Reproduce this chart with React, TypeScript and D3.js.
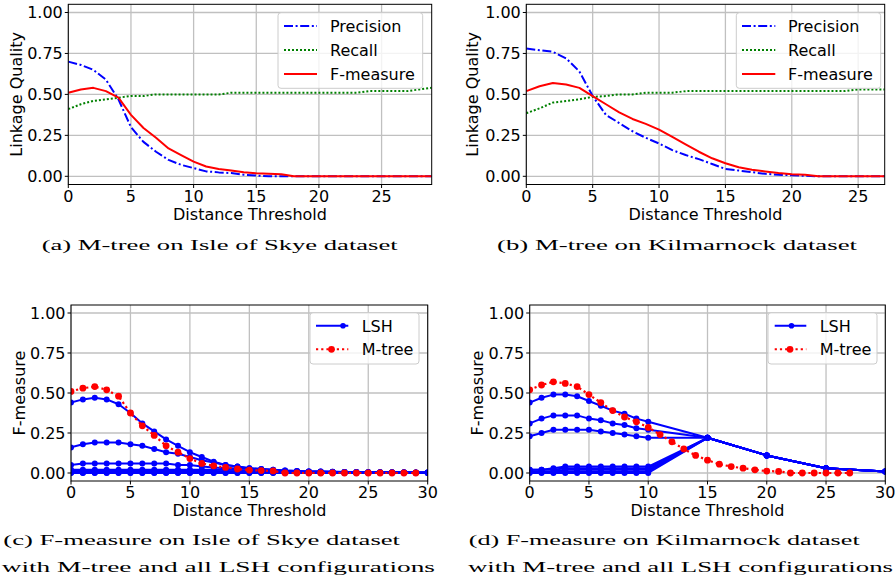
import React from "react";
import * as d3 from "d3";

// ---------- DATA ----------
const thresholdsA = [0,1,2,3,4,5,6,7,8,9,10,11,12,13,14,15,16,17,18,19,20,21,22,23,24,25,26,27,28,29];
const precisionA = [0.70,0.68,0.65,0.59,0.47,0.30,0.21,0.15,0.10,0.07,0.05,0.03,0.024,0.02,0.01,0.005,0,0,0,0,0,0,0,0,0,0,0,0,0,0];
const recallA = [0.41,0.44,0.46,0.47,0.48,0.49,0.49,0.50,0.50,0.50,0.50,0.50,0.50,0.51,0.51,0.51,0.51,0.51,0.51,0.51,0.51,0.51,0.51,0.51,0.52,0.52,0.52,0.52,0.53,0.54];
const fmeasureA = [0.51,0.53,0.54,0.52,0.48,0.375,0.295,0.235,0.17,0.13,0.09,0.06,0.045,0.035,0.025,0.018,0.015,0.013,0,0,0,0,0,0,0,0,0,0,0,0];

const thresholdsB = [0,1,2,3,4,5,6,7,8,9,10,11,12,13,14,15,16,17,18,19,20,21,22,23,24,25,26,27];
const precisionB = [0.78,0.77,0.76,0.72,0.64,0.49,0.375,0.325,0.275,0.235,0.20,0.16,0.13,0.105,0.075,0.045,0.035,0.025,0.015,0.01,0.006,0.003,0,0,0,0,0,0];
const recallB = [0.385,0.415,0.45,0.46,0.47,0.485,0.49,0.50,0.50,0.51,0.51,0.51,0.52,0.52,0.52,0.52,0.52,0.52,0.52,0.52,0.52,0.52,0.52,0.52,0.52,0.53,0.53,0.53];
const fmeasureB = [0.52,0.55,0.57,0.56,0.54,0.49,0.44,0.39,0.35,0.32,0.285,0.24,0.195,0.15,0.11,0.08,0.055,0.04,0.03,0.02,0.012,0.01,0,0,0,0,0,0];

const thresholdsC = [0,1,2,3,4,5,6,7,8,9,10,11,12,13,14,15,16,17,18,19,20,21,22,23,24,25,26,27,28,29,30];
const lshC1 = [0.44,0.46,0.47,0.46,0.43,0.375,0.31,0.26,0.21,0.17,0.13,0.10,0.07,0.05,0.04,0.03,0.025,0.02,0.015,0.012,0.01,0.01,0.008,0.007,0.006,0.005,0.005,0.004,0.004,0.003,0.003];
const lshC2 = [0.16,0.18,0.19,0.19,0.19,0.18,0.17,0.15,0.13,0.12,0.10,0.08,0.065,0.05,0.04,0.03,0.025,0.02,0.015,0.012,0.01,0.01,0.008,0.007,0.006,0.005,0.005,0.004,0.004,0.003,0.003];
const lshC3 = [0.05,0.06,0.06,0.06,0.06,0.06,0.06,0.06,0.06,0.05,0.05,0.04,0.035,0.03,0.03,0.025,0.02,0.015,0.012,0.01,0.01,0.008,0.007,0.006,0.005,0.005,0.004,0.004,0.003,0.003,0.003];
const lshC4 = [0.02,0.02,0.02,0.02,0.02,0.02,0.02,0.02,0.02,0.02,0.02,0.02,0.02,0.02,0.018,0.015,0.012,0.01,0.01,0.008,0.007,0.006,0.005,0.005,0.004,0.004,0.003,0.003,0.003,0.002,0.002];
const lshC5 = [0.012,0.012,0.012,0.012,0.012,0.012,0.012,0.012,0.012,0.012,0.012,0.012,0.012,0.011,0.01,0.01,0.009,0.008,0.007,0.006,0.005,0.005,0.004,0.004,0.003,0.003,0.003,0.002,0.002,0.002,0.002];
const lshC6 = [0.006,0.006,0.006,0.006,0.006,0.006,0.006,0.006,0.006,0.006,0.006,0.006,0.006,0.006,0.005,0.005,0.005,0.004,0.004,0.004,0.003,0.003,0.003,0.002,0.002,0.002,0.002,0.001,0.001,0.001,0.001];
const lshC7 = [0.002,0.002,0.002,0.002,0.002,0.002,0.002,0.002,0.002,0.002,0.002,0.002,0.002,0.002,0.002,0.002,0.002,0.002,0.001,0.001,0.001,0.001,0.001,0.001,0.001,0.001,0.001,0.001,0.001,0.001,0.001];
const lshC8 = [0,0,0,0,0,0,0,0,0,0,0,0,0,0,0,0,0,0,0,0,0,0,0,0,0,0,0,0,0,0,0];

const thresholdsD = [0,1,2,3,4,5,6,7,8,9,10,15,20,25,30];
const lshD1 = [0.44,0.47,0.49,0.49,0.48,0.45,0.42,0.39,0.37,0.34,0.32,0.22,0.11,0.03,0.01];
const lshD2 = [0.31,0.34,0.36,0.36,0.36,0.34,0.33,0.31,0.30,0.28,0.27,0.22,0.11,0.03,0.01];
const lshD3 = [0.23,0.25,0.27,0.27,0.27,0.27,0.26,0.25,0.24,0.23,0.22,0.22,0.11,0.03,0.01];
const lshD4 = [0.02,0.02,0.03,0.04,0.04,0.04,0.04,0.04,0.04,0.04,0.04,0.22,0.11,0.03,0.01];
const lshD5 = [0.02,0.02,0.02,0.03,0.03,0.03,0.03,0.03,0.03,0.03,0.03,0.22,0.11,0.03,0.01];
const lshD6 = [0.01,0.01,0.01,0.02,0.02,0.02,0.02,0.02,0.02,0.02,0.02,0.22,0.11,0.03,0.01];
const lshD7 = [0.005,0.005,0.005,0.01,0.01,0.01,0.01,0.01,0.01,0.01,0.01,0.22,0.11,0.03,0.01];
const lshD8 = [0,0,0,0,0,0,0,0,0,0,0,0.22,0.11,0.03,0.01];

const yTicks = [0, 0.25, 0.5, 0.75, 1.0];
const xTicksAB = [0, 5, 10, 15, 20, 25];
const xTicksCD = [0, 5, 10, 15, 20, 25, 30];

const legendTop = ["Precision", "Recall", "F-measure"];
const legendBottom = ["LSH", "M-tree"];

// ---------- STYLES ----------
const FONT = "'DejaVu Sans', sans-serif";
const SERIF = "'Liberation Serif', 'DejaVu Serif', serif";
const FS = 16;
const CAP_FS = 15.5;
const BLUE = "#0000ff";
const GREEN = "#008000";
const RED = "#ff0000";
const GRID = "#c0c0c0";

type Series = {
  xs: number[];
  ys: number[];
  color: string;
  dash?: string;
  width: number;
  marker?: number;
};

type LegendItem = { label: string; color: string; dash?: string; marker?: number; markerX?: number };

type PanelProps = {
  left: number;
  right: number;
  top: number;
  bottom: number;
  xMax: number;
  xTicks: number[];
  yLabel: string;
  yLabelX: number;
  series: Series[];
  legend: { x0: number; x1: number; y0: number; y1: number; lineX0: number; lineX1: number; textX: number; rows: number[]; items: LegendItem[] };
};

function Panel(p: PanelProps) {
  const x = d3.scaleLinear().domain([0, p.xMax]).range([p.left, p.right]);
  const y = d3.scaleLinear().domain([-0.05, 1.05]).range([p.bottom, p.top]);
  const fmt = d3.format(".2f");
  const clipId = `clip-${Math.round(p.left)}-${Math.round(p.top)}`;
  const line = (s: Series) =>
    d3
      .line<number>()
      .x((_, i) => x(s.xs[i]))
      .y((d) => y(d))(s.ys) || "";
  const tickLen = 3.5;
  return (
    <g>
      <defs>
        <clipPath id={clipId}>
          <rect x={p.left} y={p.top} width={p.right - p.left} height={p.bottom - p.top} />
        </clipPath>
      </defs>
      {p.xTicks.map((t) => (
        <line key={"gx" + t} x1={x(t)} x2={x(t)} y1={p.top} y2={p.bottom} stroke={GRID} strokeWidth={1.3} />
      ))}
      {yTicks.map((t) => (
        <line key={"gy" + t} x1={p.left} x2={p.right} y1={y(t)} y2={y(t)} stroke={GRID} strokeWidth={1.3} />
      ))}
      <g clipPath={`url(#${clipId})`}>
        {p.series.map((s, i) => (
          <g key={"s" + i}>
            <path d={line(s)} fill="none" stroke={s.color} strokeWidth={s.width} strokeDasharray={s.dash} strokeLinejoin="round" />
            {s.marker
              ? s.ys.map((v, j) => <circle key={j} cx={x(s.xs[j])} cy={y(v)} r={s.marker} fill={s.color} />)
              : null}
          </g>
        ))}
      </g>
      <rect x={p.left} y={p.top} width={p.right - p.left} height={p.bottom - p.top} fill="none" stroke="#000" strokeWidth={1} />
      {p.xTicks.map((t) => (
        <g key={"tx" + t}>
          <line x1={x(t)} x2={x(t)} y1={p.bottom} y2={p.bottom + tickLen} stroke="#000" strokeWidth={1} />
          <text x={x(t)} y={p.bottom + 17.4} textAnchor="middle" fontFamily={FONT} fontSize={FS} fill="#000">
            {t}
          </text>
        </g>
      ))}
      {yTicks.map((t) => (
        <g key={"ty" + t}>
          <line x1={p.left - tickLen} x2={p.left} y1={y(t)} y2={y(t)} stroke="#000" strokeWidth={1} />
          <text x={p.left - 5.5} y={y(t) + 5.8} textAnchor="end" fontFamily={FONT} fontSize={FS} fill="#000">
            {fmt(t)}
          </text>
        </g>
      ))}
      <text x={(p.left + p.right) / 2} y={p.bottom + 35.4} textAnchor="middle" fontFamily={FONT} fontSize={FS} fill="#000">
        Distance Threshold
      </text>
      <text
        transform={`translate(${p.yLabelX},${(p.top + p.bottom) / 2}) rotate(-90)`}
        textAnchor="middle"
        fontFamily={FONT}
        fontSize={FS}
        fill="#000"
      >
        {p.yLabel}
      </text>
      <rect
        x={p.legend.x0}
        y={p.legend.y0}
        width={p.legend.x1 - p.legend.x0}
        height={p.legend.y1 - p.legend.y0}
        rx={3}
        fill="#fff"
        fillOpacity={0.8}
        stroke="#cccccc"
        strokeWidth={1}
      />
      {p.legend.items.map((it, i) => (
        <g key={"l" + i}>
          <line
            x1={p.legend.lineX0}
            x2={p.legend.lineX1}
            y1={p.legend.rows[i]}
            y2={p.legend.rows[i]}
            stroke={it.color}
            strokeWidth={2}
            strokeDasharray={it.dash}
          />
          {it.marker ? <circle cx={it.markerX} cy={p.legend.rows[i]} r={it.marker} fill={it.color} /> : null}
          <text x={p.legend.textX} y={p.legend.rows[i] + 5.8} fontFamily={FONT} fontSize={FS} fill="#000">
            {it.label}
          </text>
        </g>
      ))}
    </g>
  );
}

const DASHDOT = "9,2.6,2,2.6";
const DOT = "2,2";
const DOTM = "2.2,3";

export default function App() {
  const topLegendItems: LegendItem[] = [
    { label: legendTop[0], color: BLUE, dash: DASHDOT },
    { label: legendTop[1], color: GREEN, dash: DOT },
    { label: legendTop[2], color: RED },
  ];
  const seriesA: Series[] = [
    { xs: thresholdsA, ys: precisionA, color: BLUE, dash: DASHDOT, width: 2 },
    { xs: thresholdsA, ys: recallA, color: GREEN, dash: DOT, width: 2 },
    { xs: thresholdsA, ys: fmeasureA, color: RED, width: 2 },
  ];
  const seriesB: Series[] = [
    { xs: thresholdsB, ys: precisionB, color: BLUE, dash: DASHDOT, width: 2 },
    { xs: thresholdsB, ys: recallB, color: GREEN, dash: DOT, width: 2 },
    { xs: thresholdsB, ys: fmeasureB, color: RED, width: 2 },
  ];
  const lshC = [lshC8, lshC7, lshC6, lshC5, lshC4, lshC3, lshC2, lshC1];
  const lshD = [lshD8, lshD7, lshD6, lshD5, lshD4, lshD3, lshD2, lshD1];
  const seriesC: Series[] = [
    ...lshC.map((ys) => ({ xs: thresholdsC, ys, color: BLUE, width: 2, marker: 3 })),
    { xs: thresholdsA, ys: fmeasureA, color: RED, dash: DOTM, width: 2.2, marker: 3.4 },
  ];
  const seriesD: Series[] = [
    ...lshD.map((ys) => ({ xs: thresholdsD, ys, color: BLUE, width: 2, marker: 3 })),
    { xs: thresholdsB, ys: fmeasureB, color: RED, dash: DOTM, width: 2.2, marker: 3.4 },
  ];
  const botLegendItems: LegendItem[] = [
    { label: legendBottom[0], color: BLUE, marker: 2.8, markerX: 0 },
    { label: legendBottom[1], color: RED, dash: DOTM, marker: 3.4, markerX: 0 },
  ];
  const legC = botLegendItems.map((it, i) => ({ ...it, markerX: i === 0 ? 343 : 331.5 }));
  const legD = botLegendItems.map((it, i) => ({ ...it, markerX: i === 0 ? 791.5 : 790 }));

  return (
    <svg width={896} height={583} style={{ position: "absolute", left: 0, top: 0, background: "#fff" }}>
      <rect width={896} height={583} fill="#fff" />
      <Panel
        left={68.3}
        right={431.7}
        top={4.3}
        bottom={184.5}
        xMax={29}
        xTicks={xTicksAB}
        yLabel="Linkage Quality"
        yLabelX={22}
        series={seriesA}
        legend={{ x0: 278, x1: 422.7, y0: 12.7, y1: 88.3, lineX0: 284, lineX1: 317, textX: 330, rows: [26, 50, 74], items: topLegendItems }}
      />
      <Panel
        left={526.3}
        right={884.7}
        top={4.3}
        bottom={184.5}
        xMax={27}
        xTicks={xTicksAB}
        yLabel="Linkage Quality"
        yLabelX={478}
        series={seriesB}
        legend={{ x0: 736.3, x1: 880.7, y0: 12.7, y1: 88.3, lineX0: 742, lineX1: 775.3, textX: 788, rows: [26, 50, 74], items: topLegendItems }}
      />
      <Panel
        left={71}
        right={427.7}
        top={305}
        bottom={481}
        xMax={30}
        xTicks={xTicksCD}
        yLabel="F-measure"
        yLabelX={25}
        series={seriesC}
        legend={{ x0: 310, x1: 419, y0: 312.7, y1: 364, lineX0: 316, lineX1: 348.3, textX: 361.7, rows: [325.7, 349.3], items: legC }}
      />
      <Panel
        left={529.7}
        right={885.3}
        top={305}
        bottom={481}
        xMax={30}
        xTicks={xTicksCD}
        yLabel="F-measure"
        yLabelX={483}
        series={seriesD}
        legend={{ x0: 768, x1: 877, y0: 312.7, y1: 364, lineX0: 774.7, lineX1: 806.3, textX: 819.7, rows: [325.7, 349.3], items: legD }}
      />
      <text x={41.7} y={250} fontFamily={SERIF} fontSize={CAP_FS} textLength={356} lengthAdjust="spacingAndGlyphs" fill="#000">
        (a) M-tree on Isle of Skye dataset
      </text>
      <text x={497} y={250} fontFamily={SERIF} fontSize={CAP_FS} textLength={360} lengthAdjust="spacingAndGlyphs" fill="#000">
        (b) M-tree on Kilmarnock dataset
      </text>
      <text x={3.3} y={545} fontFamily={SERIF} fontSize={CAP_FS} textLength={396.7} lengthAdjust="spacingAndGlyphs" fill="#000">
        (c) F-measure on Isle of Skye dataset
      </text>
      <text x={1.7} y={571.7} fontFamily={SERIF} fontSize={CAP_FS} textLength={433.3} lengthAdjust="spacingAndGlyphs" fill="#000">
        with M-tree and all LSH configurations
      </text>
      <text x={468.7} y={545} fontFamily={SERIF} fontSize={CAP_FS} textLength={391} lengthAdjust="spacingAndGlyphs" fill="#000">
        (d) F-measure on Kilmarnock dataset
      </text>
      <text x={468} y={571.7} fontFamily={SERIF} fontSize={CAP_FS} textLength={425} lengthAdjust="spacingAndGlyphs" fill="#000">
        with M-tree and all LSH configurations
      </text>
    </svg>
  );
}
